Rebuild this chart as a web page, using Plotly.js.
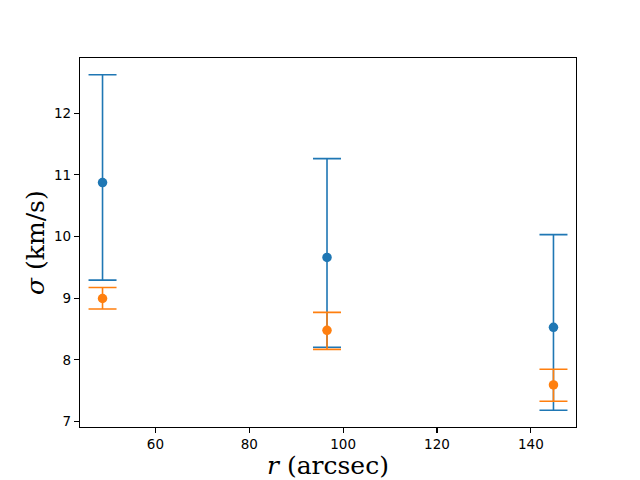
<!DOCTYPE html>
<html>
<head>
<meta charset="utf-8">
<script src="https://cdn.plot.ly/plotly-3.0.1.min.js"></script>
<style>html,body{margin:0;padding:0;background:#fff;}#chart{width:640px;height:480px;}</style>
</head>
<body>
<div id="chart"></div>
<script>
// Data
const radius = [48.74, 96.57, 144.82];
const sigmaBlue = [10.874, 9.660, 8.528];
const blueErrPlus = [1.747, 1.602, 1.502];
const blueErrMinus = [1.581, 1.456, 1.344];
const sigmaOrange = [8.995, 8.479, 7.594];
const orangeErrPlus = [0.178, 0.291, 0.254];
const orangeErrMinus = [0.170, 0.308, 0.264];
const xTicks = [60, 80, 100, 120, 140];
const yTicks = [7, 8, 9, 10, 11, 12];
const xLabel = '<i>r</i> (arcsec)';
const yLabel = '<i>σ</i> (km/s)';

function series(y, plus, minus, color) {
  return {
    x: radius, y: y, type: 'scatter', mode: 'markers',
    marker: {color: color, size: 9.5},
    error_y: {type: 'data', symmetric: false, array: plus, arrayminus: minus,
              color: color, thickness: 1.6, width: 14},
    showlegend: false, hoverinfo: 'skip'
  };
}

const data = [
  series(sigmaBlue, blueErrPlus, blueErrMinus, '#1f77b4'),
  series(sigmaOrange, orangeErrPlus, orangeErrMinus, '#ff7f0e')
];

const axisCommon = {
  showgrid: false, zeroline: false, showline: true, linecolor: '#000', linewidth: 1.1,
  mirror: true, ticks: 'outside', ticklen: 5, tickwidth: 1.1, tickcolor: '#000',
  tickfont: {family: 'DejaVu Sans', size: 13.5, color: '#000'}
};

const labelFont = {family: 'DejaVu Serif', size: 25, color: '#000'};

const layout = {
  width: 640, height: 480,
  margin: {l: 80, r: 64, t: 58, b: 53},
  paper_bgcolor: '#fff', plot_bgcolor: '#fff',
  xaxis: Object.assign({}, axisCommon, {
    range: [43.94, 149.62], tickvals: xTicks, ticktext: xTicks.map(String)
  }),
  yaxis: Object.assign({}, axisCommon, {
    range: [6.912, 12.893], tickvals: yTicks, ticktext: yTicks.map(String)
  }),
  annotations: [
    {text: xLabel, xref: 'paper', yref: 'paper', x: 0.5, y: 0, xanchor: 'center', yanchor: 'top',
     yshift: -22, showarrow: false, font: labelFont},
    {text: yLabel, xref: 'paper', yref: 'paper', x: 0, y: 0.5, xanchor: 'right', yanchor: 'middle',
     xshift: -28, textangle: -90, showarrow: false, font: labelFont}
  ]
};

Plotly.newPlot('chart', data, layout, {staticPlot: true, displayModeBar: false});
</script>
</body>
</html>
